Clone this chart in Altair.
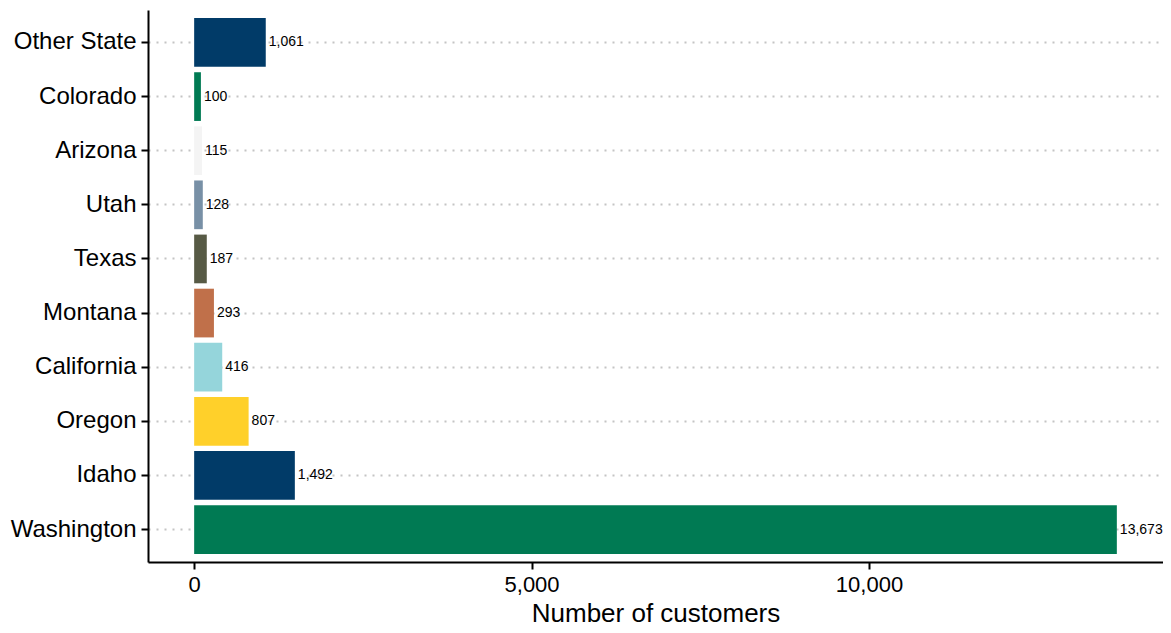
import altair as alt
import pandas as pd

states = ["Other State", "Colorado", "Arizona", "Utah", "Texas", "Montana",
          "California", "Oregon", "Idaho", "Washington"]
customers = [1061, 100, 115, 128, 187, 293, 416, 807, 1492, 13673]
colors = ["#013B68", "#007A53", "#F4F4F4", "#7890A6", "#575A45", "#C0704A",
          "#95D5DB", "#FFD02A", "#013B68", "#007A53"]
x_ticks = [0, 5000, 10000]

df = pd.DataFrame({"state": states, "customers": customers})
df["label"] = df["customers"].map(lambda v: f"{v:,}")

y_enc = alt.Y("state:N", sort=states, title=None,
              scale=alt.Scale(paddingInner=0.1, paddingOuter=0.15),
              axis=alt.Axis(labelFontSize=24, labelColor="black", labelFont="Liberation Sans",
                            domainColor="black", domainWidth=2, tickColor="black",
                            tickWidth=2, tickSize=7, labelPadding=5,
                            grid=True, gridColor="#C4C4C4", gridDash=[2, 6], gridWidth=2))
x_enc = alt.X("customers:Q", title="Number of customers",
              scale=alt.Scale(domain=[-684, 14357], nice=False, zero=False),
              axis=alt.Axis(values=x_ticks, format=",d", labelFontSize=22, labelColor="black",
                            labelFont="Liberation Sans", titleFont="Liberation Sans",
                            titleFontSize=26, titleFontWeight="normal", titleColor="black",
                            titlePadding=5, domainColor="black", domainWidth=2,
                            tickColor="black", tickWidth=2, tickSize=7, labelPadding=5,
                            grid=False))

bars = alt.Chart(df).mark_bar().encode(
    y=y_enc, x=x_enc,
    color=alt.Color("state:N", scale=alt.Scale(domain=states, range=colors), legend=None),
)
text = alt.Chart(df).mark_text(align="left", baseline="middle", dx=3, fontSize=14,
                               font="Liberation Sans", color="black").encode(
    y=y_enc, x=x_enc, text="label:N")

chart = (bars + text).properties(
    width=1015, height=552,
    padding={"left": 140, "top": 2, "right": 0, "bottom": 70},
    autosize=alt.AutoSizeParams(type="none"),
    background="white",
).configure_view(stroke=None)

chart.save("out.html", embed_options={"renderer": "svg", "actions": False})
